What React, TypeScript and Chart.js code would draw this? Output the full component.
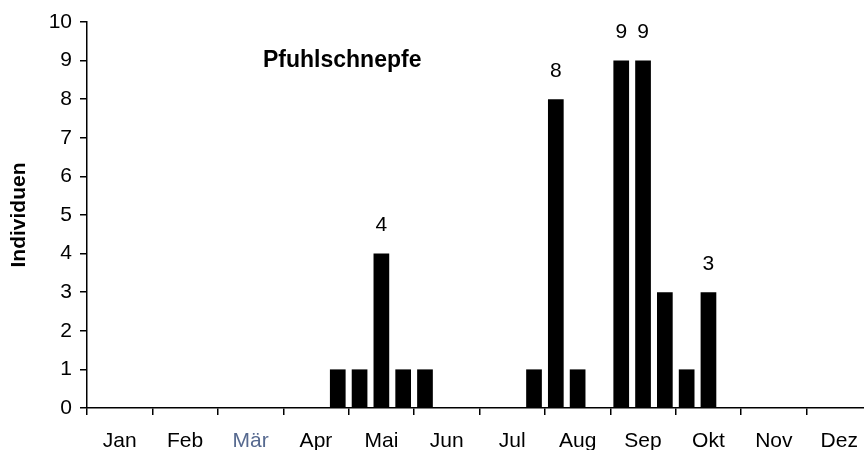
import React, { useEffect, useRef } from "react";
import { Chart, registerables } from "chart.js";

Chart.register(...registerables);

const months = ["Jan", "Feb", "Mär", "Apr", "Mai", "Jun", "Jul", "Aug", "Sep", "Okt", "Nov", "Dez"];
const decades = months.flatMap((m) => [m + " I", m + " II", m + " III"]);
const counts = [
  0, 0, 0, 0, 0, 0, 0, 0, 0, 0, 0, 1,
  1, 4, 1, 1, 0, 0, 0, 0, 1, 8, 1, 0,
  9, 9, 3, 1, 3, 0, 0, 0, 0, 0, 0, 0,
];
const labeledBars = [13, 21, 24, 25, 28];
const yTicks = [0, 1, 2, 3, 4, 5, 6, 7, 8, 9, 10];
const chartTitle = "Pfuhlschnepfe";
const yTitle = "Individuen";

const FONT = "'Liberation Sans', Arial, Helvetica, sans-serif";

const overlayPlugin = {
  id: "overlay",
  afterDatasetsDraw(chart: any) {
    const { ctx, chartArea } = chart;
    const meta = chart.getDatasetMeta(0);
    ctx.save();
    ctx.fillStyle = "#000";
    ctx.font = `21px ${FONT}`;
    ctx.textAlign = "center";
    ctx.textBaseline = "middle";
    labeledBars.forEach((i) => {
      const el = meta.data[i];
      if (!el) return;
      ctx.fillText(String(counts[i]), el.x, el.y - 28);
    });
    ctx.font = `bold 23px ${FONT}`;
    ctx.textAlign = "left";
    ctx.fillText(chartTitle, chartArea.left + 176, 61);
    ctx.restore();
  },
};

export default function App() {
  const ref = useRef<HTMLCanvasElement | null>(null);
  useEffect(() => {
    if (!ref.current) return;
    const chart = new Chart(ref.current, {
      type: "bar",
      data: {
        labels: decades,
        datasets: [
          {
            data: counts,
            backgroundColor: "#000",
            borderWidth: 0,
            barPercentage: 0.72,
            categoryPercentage: 1,
            xAxisID: "x",
            yAxisID: "y",
          },
        ],
      },
      options: {
        responsive: false,
        animation: false,
        devicePixelRatio: 1,
        layout: { padding: { top: 22, right: 28, left: 0, bottom: 0 } },
        plugins: {
          legend: { display: false },
          tooltip: { enabled: false },
          title: { display: false },
        },
        scales: {
          x: {
            type: "category",
            display: false,
            offset: true,
          },
          x2: {
            type: "category",
            position: "bottom",
            labels: months,
            offset: true,
            grid: {
              offset: true,
              drawOnChartArea: false,
              drawTicks: true,
              tickLength: 7,
              color: "#000",
              lineWidth: 1.5,
            },
            border: { display: true, color: "#000", width: 1.5 },
            ticks: {
              font: { family: FONT, size: 21 },
              color: (ctx: any) => (ctx.index === 2 ? "#56698f" : "#000"),
              padding: 14,
              maxRotation: 0,
              autoSkip: false,
            },
            afterFit: (scale: any) => {
              scale.height = 42;
            },
          },
          y: {
            min: 0,
            max: 10,
            afterBuildTicks: (scale: any) => {
              scale.ticks = yTicks.map((v) => ({ value: v }));
            },
            grid: {
              drawOnChartArea: false,
              drawTicks: true,
              tickLength: 7,
              color: "#000",
              lineWidth: 1.5,
            },
            border: { display: true, color: "#000", width: 1.5 },
            ticks: {
              font: { family: FONT, size: 21 },
              color: "#000",
              padding: 8,
            },
            title: {
              display: true,
              text: yTitle,
              font: { family: FONT, size: 21, weight: "bold" },
              color: "#000",
              padding: { top: 7, bottom: 0 },
            },
            afterFit: (scale: any) => {
              scale.width = 87;
            },
          },
        },
      },
      plugins: [overlayPlugin],
    });
    return () => chart.destroy();
  }, []);
  return (
    <div
      style={{
        position: "absolute",
        left: 0,
        top: 0,
        width: 864,
        height: 450,
        overflow: "hidden",
        background: "#fff",
      }}
    >
      <canvas ref={ref} width={900} height={450} style={{ width: 900, height: 450, display: "block" }} />
    </div>
  );
}
